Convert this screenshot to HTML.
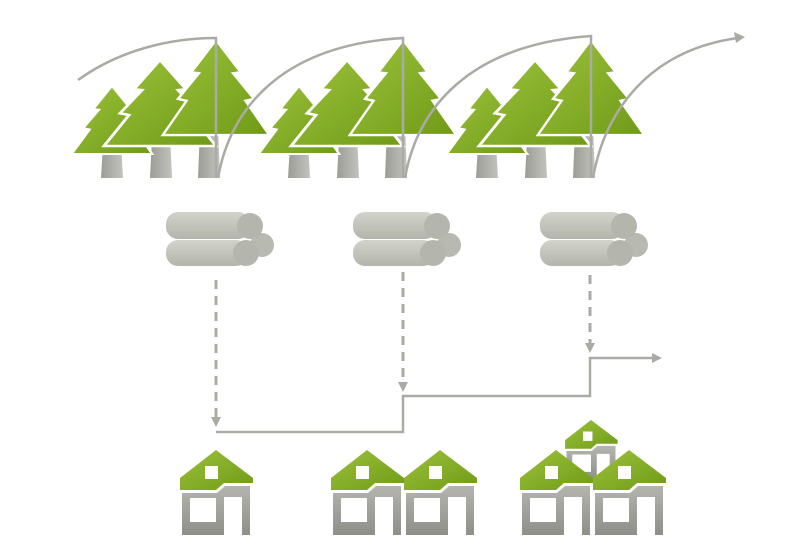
<!DOCTYPE html>
<html><head><meta charset="utf-8"><style>html,body{margin:0;padding:0;background:#fff}svg{display:block}</style></head>
<body>
<svg width="800" height="560" viewBox="0 0 800 560" xmlns="http://www.w3.org/2000/svg">
<defs>
<linearGradient id="g" x1="0" y1="0" x2="1" y2="1"><stop offset="0" stop-color="#9cc23a"/><stop offset="1" stop-color="#6f9a18"/></linearGradient>
<linearGradient id="gr" x1="0" y1="0" x2="0" y2="1"><stop offset="0" stop-color="#b4b5ae"/><stop offset="1" stop-color="#8e8f88"/></linearGradient>
<linearGradient id="tr" x1="0" y1="0" x2="1" y2="0"><stop offset="0" stop-color="#9c9d96"/><stop offset="1" stop-color="#c2c3bc"/></linearGradient>
<linearGradient id="lg" x1="0" y1="0" x2="0" y2="1"><stop offset="0" stop-color="#d2d4cc"/><stop offset="1" stop-color="#b3b5ad"/></linearGradient>
<path id="tp" d="M0,0 L26,34 L18,35 L40,62 L31,64 L56,100 L-56,100 L-31,64 L-40,62 L-18,35 L-26,34 Z"/>
<g id="trees">
 <polygon points="103,145 121,142 123,178 101,178" fill="url(#tr)"/>
 <polygon points="152,138 170,134 172,178 150,178" fill="url(#tr)"/>
 <polygon points="200,128 218,124 220,178 198,178" fill="url(#tr)"/>
 <use href="#tp" transform="translate(112,86) scale(0.72,0.68)" fill="url(#g)" stroke="#fff" stroke-width="3"/>
 <use href="#tp" transform="translate(160,60) scale(1.0,0.86)" fill="url(#g)" stroke="#fff" stroke-width="3"/>
 <use href="#tp" transform="translate(216,40) scale(0.95,0.95)" fill="url(#g)" stroke="#fff" stroke-width="2.5"/>
</g>
<g id="logs">
 <rect x="166" y="240" width="82" height="26" rx="12" fill="url(#lg)"/>
 <circle cx="262" cy="245" r="12" fill="#b8bab2"/>
 <circle cx="246" cy="253" r="13" fill="#b4b6ae"/>
 <rect x="166" y="212" width="84" height="27" rx="12" fill="url(#lg)"/>
 <circle cx="250" cy="226" r="13" fill="#b4b6ae"/>
</g>
<g id="house">
 <polygon points="0,0 37,28 37,33 8,33 0,40 -36,40 -36,28" fill="url(#g)"/>
 <path d="M-34,43 L1,43 L9,36 L34,36 L34,85 L26,85 L26,47 L8,47 L8,85 L-34,85 Z M-26,48 L0,48 L0,72 L-26,72 Z" fill="url(#gr)" fill-rule="evenodd"/>
 <rect x="-11" y="16" width="13" height="13" fill="#fff"/>
</g>
</defs>
<use href="#trees"/>
<use href="#trees" x="187"/>
<use href="#trees" x="375"/>
<g fill="none" stroke="#aaaba5" stroke-width="2.5">
 <path d="M78,80 C120,50 170,38 216,38 L216,178"/>
 <path d="M218,178 C230,110 280,45 403,38 L403,178"/>
 <path d="M405,178 C417,110 467,45 591,36 L591,178"/>
 <path d="M593,178 C605,110 650,50 738,38"/>
 <path d="M216,432 L403,432 L403,396 L590,396 L590,358 L654,358"/>
 <g stroke-dasharray="9,7" stroke-width="3"><path d="M216,280 L216,418"/><path d="M403,272 L403,382"/><path d="M590,275 L590,344"/></g>
</g>
<g fill="#aaaba5">
 <polygon points="745,37 734,32 736,43"/>
 <polygon points="662,358 652,353 652,363"/>
 <polygon points="216,427 211,417 221,417"/>
 <polygon points="403,392 398,382 408,382"/>
 <polygon points="590,353 585,343 595,343"/>
</g>
<use href="#logs"/>
<use href="#logs" x="187"/>
<use href="#logs" x="374"/>
<use href="#house" transform="translate(216,450)"/>
<use href="#house" transform="translate(367,450)"/>
<use href="#house" transform="translate(440,450)"/>
<use href="#house" transform="translate(591,420) scale(0.72)"/>
<use href="#house" transform="translate(556,450)"/>
<use href="#house" transform="translate(629,450)"/>
</svg>
</body></html>
